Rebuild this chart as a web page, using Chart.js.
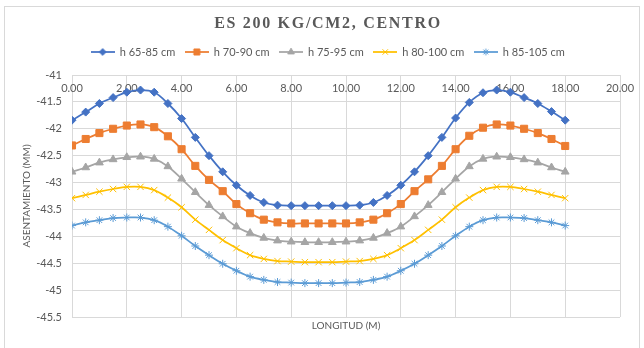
<!DOCTYPE html>
<html>
<head>
<meta charset="utf-8">
<script src="https://cdn.jsdelivr.net/npm/chart.js@4.4.1/dist/chart.umd.min.js"></script>
<style>
  html, body { margin: 0; padding: 0; background: #fff; }
  body { width: 644px; height: 348px; overflow: hidden; position: relative; }
  #frame { position: absolute; left: 4px; top: 6px; width: 636px; height: 400px; border: 1px solid #d9d9d9; box-sizing: border-box; }
  #wrap { position: absolute; left: 0; top: 0; width: 644px; height: 348px; }
</style>
</head>
<body>
<div id="frame"></div>
<div id="wrap"><canvas id="c" width="644" height="348"></canvas></div>
<script>
// Longitud (m) of each measuring point
const positions = [0, 0.5, 1, 1.5, 2, 2.5, 3, 3.5, 4, 4.5, 5, 5.5, 6, 6.5, 7, 7.5, 8, 8.5, 9,
  9.5, 10, 10.5, 11, 11.5, 12, 12.5, 13, 13.5, 14, 14.5, 15, 15.5, 16, 16.5, 17, 17.5, 18];

const seriesNames = ['h 65-85 cm', 'h 70-90 cm', 'h 75-95 cm', 'h 80-100 cm', 'h 85-105 cm'];

// Asentamiento (mm) per depth range
const h65_85 = [-41.84, -41.69, -41.53, -41.42, -41.32, -41.28, -41.32, -41.53, -41.81, -42.16, -42.50, -42.80, -43.05,
  -43.24, -43.37, -43.42, -43.43, -43.43, -43.43, -43.43, -43.43, -43.42, -43.37, -43.24, -43.05, -42.80, -42.50,
  -42.16, -41.80, -41.51, -41.33, -41.28, -41.32, -41.42, -41.53, -41.68, -41.84];
const h70_90 = [-42.31, -42.19, -42.08, -42.00, -41.94, -41.92, -41.97, -42.14, -42.38, -42.69, -42.95, -43.16, -43.40,
  -43.57, -43.69, -43.74, -43.76, -43.76, -43.76, -43.76, -43.76, -43.74, -43.69, -43.57, -43.40, -43.16, -42.94,
  -42.69, -42.38, -42.13, -41.98, -41.92, -41.94, -42.00, -42.08, -42.19, -42.32];
const h75_95 = [-42.80, -42.72, -42.63, -42.57, -42.53, -42.52, -42.56, -42.70, -42.93, -43.18, -43.42, -43.63, -43.82,
  -43.94, -44.03, -44.08, -44.10, -44.11, -44.11, -44.11, -44.10, -44.08, -44.03, -43.94, -43.82, -43.63, -43.42,
  -43.18, -42.93, -42.70, -42.56, -42.52, -42.53, -42.57, -42.63, -42.72, -42.80];
const h80_100 = [-43.29, -43.23, -43.17, -43.12, -43.08, -43.08, -43.14, -43.28, -43.46, -43.69, -43.88, -44.07, -44.22,
  -44.35, -44.42, -44.46, -44.47, -44.48, -44.48, -44.48, -44.47, -44.46, -44.42, -44.35, -44.22, -44.07, -43.88,
  -43.69, -43.46, -43.28, -43.14, -43.08, -43.08, -43.12, -43.17, -43.23, -43.29];
const h85_105 = [-43.80, -43.74, -43.70, -43.66, -43.65, -43.65, -43.70, -43.82, -43.99, -44.18, -44.35, -44.51, -44.64,
  -44.75, -44.81, -44.85, -44.86, -44.87, -44.87, -44.87, -44.86, -44.85, -44.81, -44.75, -44.64, -44.51, -44.35,
  -44.18, -43.99, -43.82, -43.70, -43.65, -43.65, -43.66, -43.70, -43.74, -43.80];

const seriesValues = [h65_85, h70_90, h75_95, h80_100, h85_105];
const colors = ['#4472C4', '#ED7D31', '#A5A5A5', '#FFC000', '#5B9BD5'];
const markers = ['rectRot', 'rect', 'triangle', 'crossRot', 'star'];
const markerRadius = [4, 5, 4.5, 4.5, 4];

const TEXT = '#595959';
const GRID = '#D9D9D9';
const FONT = 'Lato';

// Small line + marker swatch used as the legend symbol
function legendIcon(color, style, radius) {
  const c = document.createElement('canvas');
  c.width = 24; c.height = 12;
  const g = c.getContext('2d');
  g.strokeStyle = color;
  g.lineWidth = 1.75;
  g.beginPath(); g.moveTo(0, 6); g.lineTo(24, 6); g.stroke();
  g.fillStyle = color;
  g.lineWidth = 1;
  Chart.helpers.drawPoint(g, { pointStyle: style, radius: radius * 0.85, rotation: 0, borderWidth: 1 }, 12, 6);
  return c;
}
const icons = colors.map((c, i) => legendIcon(c, markers[i], markerRadius[i]));

const datasets = seriesValues.map((vals, i) => ({
  label: seriesNames[i],
  data: positions.map((x, j) => ({ x: x, y: vals[j] })),
  borderColor: colors[i],
  backgroundColor: colors[i],
  borderWidth: 1.75,
  tension: 0.35,
  pointStyle: markers[i],
  pointRadius: markerRadius[i],
  pointBackgroundColor: colors[i],
  pointBorderColor: colors[i],
  pointBorderWidth: 1,
  xAxisID: 'x',
  yAxisID: 'y'
}));

// Title drawn with letter spacing
const spacedTitle = {
  id: 'spacedTitle',
  beforeDraw(chart) {
    const tb = chart.titleBlock;
    if (tb && !tb._spaced) {
      const orig = tb.draw.bind(tb);
      tb.draw = function () {
        const ctx = chart.ctx;
        ctx.save();
        ctx.letterSpacing = '1.7px';
        orig();
        ctx.restore();
      };
      tb._spaced = true;
    }
  }
};

new Chart(document.getElementById('c'), {
  type: 'line',
  data: { datasets },
  plugins: [spacedTitle],
  options: {
    responsive: false,
    animation: false,
    devicePixelRatio: 1,
    layout: { padding: { top: 4, left: 12, right: 0, bottom: 16 } },
    plugins: {
      title: {
        display: true,
        text: 'ES 200 KG/CM2, CENTRO',
        color: TEXT,
        font: { family: 'Liberation Serif', size: 16, weight: 'bold' },
        padding: { top: 10.4, bottom: 2.9 }
      },
      legend: {
        display: true,
        position: 'top',
        labels: {
          color: TEXT,
          font: { family: FONT, size: 11 },
          usePointStyle: true,
          pointStyleWidth: 23,
          padding: 10,
          generateLabels: (chart) => chart.data.datasets.map((ds, i) => ({
            text: ds.label,
            pointStyle: icons[i],
            fillStyle: ds.borderColor,
            strokeStyle: ds.borderColor,
            lineWidth: 0,
            fontColor: TEXT,
            hidden: false,
            datasetIndex: i
          }))
        }
      },
      tooltip: { enabled: false }
    },
    scales: {
      x: {
        type: 'linear',
        axis: 'x',
        position: { y: -41 },
        min: 0,
        max: 20,
        ticks: {
          stepSize: 2,
          color: TEXT,
          font: { family: FONT, size: 11 },
          padding: 7,
          maxRotation: 0,
          autoSkip: false,
          callback: (v) => Number(v).toFixed(2)
        },
        grid: { color: GRID, drawTicks: false },
        border: { display: false },
        afterFit: (s) => { s.height = 0; }
      },
      xPad: {
        type: 'linear',
        axis: 'x',
        position: 'top',
        min: 0,
        max: 20,
        ticks: { display: false },
        grid: { display: false, drawTicks: false },
        border: { display: false },
        afterFit: (s) => { s.height = 7.5; }
      },
      xTitle: {
        type: 'linear',
        axis: 'x',
        position: 'bottom',
        min: 0,
        max: 20,
        ticks: { display: false },
        grid: { display: false, drawTicks: false },
        border: { display: false },
        title: {
          display: true,
          text: 'LONGITUD (M)',
          color: TEXT,
          font: { family: FONT, size: 10 },
          padding: { top: 3, bottom: 0 }
        }
      },
      y: {
        type: 'linear',
        position: 'left',
        min: -45.5,
        max: -41,
        ticks: {
          stepSize: 0.5,
          color: TEXT,
          font: { family: FONT, size: 11 },
          padding: 10,
          callback: (v) => String(Math.round(v * 10) / 10)
        },
        grid: { color: GRID, drawTicks: false },
        border: { display: false },
        title: {
          display: true,
          text: 'ASENTAMIENTO (MM)',
          color: TEXT,
          font: { family: FONT, size: 10 },
          padding: { top: 9, bottom: 0 }
        },
        afterFit: (s) => { s.width = 60; }
      },
      yPad: {
        type: 'linear',
        axis: 'y',
        position: 'right',
        min: -45.5,
        max: -41,
        ticks: { display: false },
        grid: { display: false, drawTicks: false },
        border: { display: false },
        afterFit: (s) => { s.width = 24; }
      }
    }
  }
});
</script>
</body>
</html>
